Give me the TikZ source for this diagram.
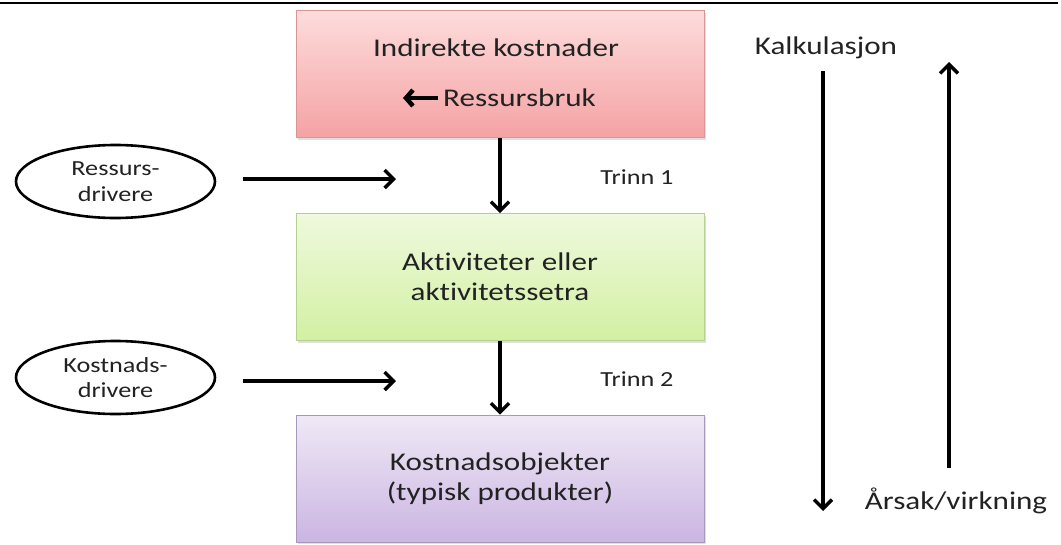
\documentclass[tikz,border=0pt]{standalone}
\usepackage{fontspec}
\setmainfont{Carlito}[FakeStretch=1.22, Ligatures=NoCommon]
\usetikzlibrary{arrows.meta,shadows,shapes.geometric}
\definecolor{pinkT}{HTML}{FDDCDC}
\definecolor{pinkB}{HTML}{F5A2A4}
\definecolor{pinkD}{HTML}{D99595}
\definecolor{greenT}{HTML}{EFF9DE}
\definecolor{greenB}{HTML}{D2F0A2}
\definecolor{greenD}{HTML}{B5CF90}
\definecolor{purpT}{HTML}{EFE9F6}
\definecolor{purpB}{HTML}{CBB5E2}
\definecolor{purpD}{HTML}{A898BC}
\definecolor{txt}{HTML}{222222}
\tikzset{
  box/.style={rectangle, minimum width=408pt, minimum height=127pt, align=center,
    draw=#1D, line width=0.8pt, top color=#1T, bottom color=#1B,
    text=txt, font=\fontsize{25.5}{30}\selectfont,
    drop shadow={opacity=0.25, shadow xshift=1.5pt, shadow yshift=-2pt}},
  drv/.style={ellipse, draw=black, line width=2.6pt, minimum width=199pt, minimum height=73pt,
    align=center, inner sep=0pt, text=txt, font=\fontsize{21.5}{25.5}\selectfont},
  lbl/.style={text=txt, inner sep=0pt},
  flow/.style={line width=3.4pt, -{Straight Barb[length=9pt,width=18pt,line width=3.4pt]}},
}
\begin{document}
\begin{tikzpicture}[x=1pt,y=-1pt]
\useasboundingbox (0,0) rectangle (1061,544);
\fill[white] (0,0) rectangle (1061,544);
\coordinate (tl) at (0,2.5);
\coordinate (tr) at (1058,2.5);
\draw[line width=2pt] (tl) -- (tr);

\node[box=pink]  (ind) at (500,74) {};
\node[lbl, font=\fontsize{25.5}{30}\selectfont] (indt) at (496,48) {Indirekte kostnader};
\node[lbl, font=\fontsize{25.5}{30}\selectfont, anchor=west] (rb) at (443,98) {Ressursbruk};
\coordinate (rbA) at (438,98);
\coordinate (rbB) at (403,98);
\draw[line width=4.5pt, -{Straight Barb[length=7pt,width=16pt,line width=4.5pt]}] (rbA) -- (rbB);

\node[box=green] (akt) at (500,277) {Aktiviteter eller\\aktivitetssetra};
\node[box=purp]  (obj) at (500,478.5) {Kostnadsobjekter\\(typisk produkter)};

\node[drv] (rd) at (115.5,181.5) {Ressurs-\\drivere};
\node[drv] (kd) at (115.5,377.5) {Kostnads-\\drivere};

\coordinate (a1s) at (243,179);
\coordinate (a1e) at (396,179);
\coordinate (a2s) at (243,381);
\coordinate (a2e) at (396,381);
\draw[flow] (a1s) -- (a1e);
\draw[flow] (a2s) -- (a2e);

\draw[flow] (ind.south -| 500,0) -- (akt.north -| 500,0);
\draw[flow] (akt.south -| 500,0) -- (obj.north -| 500,0);

\node[lbl, font=\fontsize{21.5}{25}\selectfont] (t1) at (637,177) {Trinn 1};
\node[lbl, font=\fontsize{21.5}{25}\selectfont] (t2) at (637,379) {Trinn 2};

\node[lbl, font=\fontsize{25.5}{30}\selectfont] (kalk) at (826,48) {Kalkulasjon};
\node[lbl, font=\fontsize{25.5}{30}\selectfont] (ars) at (956,501) {Årsak/virkning};

\coordinate (dA) at (823,71);
\coordinate (dB) at (823,511);
\coordinate (uA) at (949,468);
\coordinate (uB) at (949,62);
\draw[flow] (dA) -- (dB);
\draw[flow] (uA) -- (uB);
\end{tikzpicture}
\end{document}
